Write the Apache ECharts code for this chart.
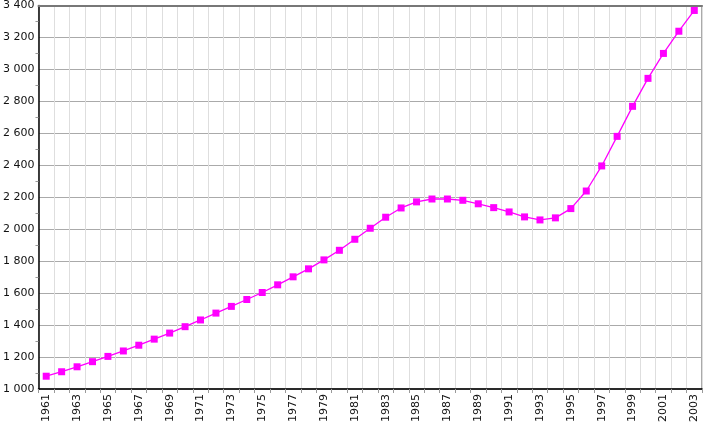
<!DOCTYPE html>
<html>
<head>
<meta charset="utf-8">
<script src="https://cdn.jsdelivr.net/npm/echarts@6/dist/echarts.min.js"></script>
<style>
  html, body { margin: 0; padding: 0; background: #fff; }
  #main { width: 725px; height: 426px; }
</style>
</head>
<body>
<div id="main"></div>
<script>
var chartDom = document.getElementById('main');
var myChart = echarts.init(chartDom);
var option;

// years on the category axis
var years = [];
for (var y = 1961; y <= 2003; y++) years.push(String(y));

// values (thousands)
var population = [
  1080, 1108, 1139, 1171, 1204, 1238, 1274, 1312, 1350, 1390,
  1432, 1475, 1517, 1560, 1604, 1652, 1702, 1752, 1808, 1868,
  1937, 2006, 2075, 2133, 2171, 2189, 2189, 2181, 2159, 2135,
  2108, 2077, 2058, 2071, 2129, 2239, 2396, 2581, 2769, 2944,
  3100, 3239, 3369
];

var yMin = 1000;
var yMax = 3400;
var yStep = 200;

function fmt(v) {
  return String(v).replace(/\B(?=(\d{3})+(?!\d))/g, ' ');
}

option = {
  animation: false,
  backgroundColor: '#fff',
  textStyle: { fontFamily: 'DejaVu Sans' },
  grid: {
    left: 38, right: 23, top: 5, bottom: 37,
    show: true,
    borderColor: '#555',
    borderWidth: 1
  },
  xAxis: [
    {
      type: 'category',
      data: years,
      boundaryGap: true,
      axisLine: { lineStyle: { color: '#000', width: 1.5 } },
      axisTick: { show: true, interval: 0, length: 4, lineStyle: { color: '#999' } },
      axisLabel: {
        interval: 1,
        rotate: 90,
        color: '#111',
        fontSize: 11,
        margin: 5
      },
      splitLine: { show: true, interval: 0, lineStyle: { color: '#dedede', width: 1 } }
    },
    {
      type: 'category',
      position: 'top',
      data: years,
      axisLine: { lineStyle: { color: '#777', width: 2 } },
      axisTick: { show: false },
      axisLabel: { show: false },
      splitLine: { show: false }
    }
  ],
  yAxis: {
    type: 'value',
    min: yMin,
    max: yMax,
    interval: yStep,
    axisLine: { show: true, lineStyle: { color: '#000', width: 1.5 } },
    axisTick: { show: false },
    minorTick: { show: true, splitNumber: 2, length: 3, lineStyle: { color: '#999' } },
    axisLabel: {
      color: '#111',
      fontSize: 11,
      margin: 4,
      formatter: fmt
    },
    splitLine: { show: true, lineStyle: { color: '#aaa', width: 1 } }
  },
  series: [
    {
      type: 'line',
      data: population,
      symbol: 'rect',
      symbolSize: 7,
      showAllSymbol: true,
      lineStyle: { color: '#ff00ff', width: 1.3 },
      itemStyle: { color: '#ff00ff' }
    }
  ]
};

option && myChart.setOption(option);
</script>
</body>
</html>
